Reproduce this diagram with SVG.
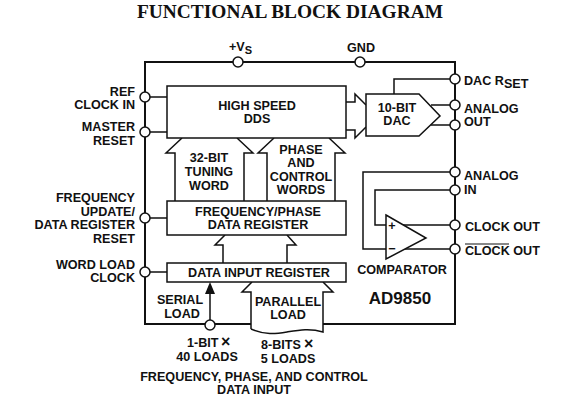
<svg xmlns="http://www.w3.org/2000/svg" width="572" height="403" viewBox="0 0 572 403">
<style>
.l{fill:none;stroke:#111;stroke-width:1.5}
.o{fill:none;stroke:#111;stroke-width:2}
.b{fill:#fff;stroke:#111;stroke-width:1.5}
.c{fill:#fff;stroke:#111;stroke-width:1.5}
text{font-family:"Liberation Sans",Arial,sans-serif;font-weight:bold;font-size:12.6px;fill:#111}
.m{text-anchor:middle}
.e{text-anchor:end}
.x{font-size:16px}
</style>
<rect width="572" height="403" fill="#fff"/>
<text x="290" y="18" class="m" style="font-family:'Liberation Serif',serif;font-size:19.4px">FUNCTIONAL BLOCK DIAGRAM</text>
<g id="connectors">
<path class="o" d="M251 324H145V62H455V324H323"/>
<path class="l" d="M145 97H167M145 132H167M145 218H167M145 272H167"/>
<path class="l" d="M455 79H394V94M431 105H455M431 125H455"/>
<path class="l" d="M455 172H363V249H455M455 190H375V225H455"/>
<path class="l" d="M210 320V290"/>
<path fill="#111" d="M210 282L215 294H205Z"/>
<path class="l" d="M346 102H355V94L366 105M346 130H355V138L366 127"/>
<path class="l" d="M175 201V153H166L182 138M237 138L253 153H244V201"/>
<path class="l" d="M267 201V153H258L274 138M329 138L345 153H335V201"/>
<path class="l" d="M223 263V245H215L225 235M287 235L296 245H287V263"/>
<path class="l" d="M251 324V292H242L252 282M323 282L333 292H323V324"/>
<path class="l" d="M251 329C265 335 275 334 287 332S310 328 323 332V324M251 329V324"/>
</g>
<g id="dds"><rect class="b" x="167" y="86" width="179" height="52"/><text x="257" y="110" class="m">HIGH SPEED</text><text x="257" y="123" class="m">DDS</text></g>
<g id="freq-reg"><rect class="b" x="167" y="201" width="179" height="34"/><text x="258" y="216" class="m">FREQUENCY/PHASE</text><text x="258" y="229" class="m">DATA REGISTER</text></g>
<g id="input-reg"><rect class="b" x="167" y="263" width="179" height="19"/><text x="259" y="277" class="m">DATA INPUT REGISTER</text></g>
<g id="dac"><path class="b" d="M366 94H419L440 116L419 136H366Z"/><text x="397" y="112" class="m">10-BIT</text><text x="397" y="125" class="m">DAC</text></g>
<g id="comparator"><path class="b" d="M386 215L426 238L386 259Z"/><text x="392" y="230" class="m">+</text><text x="392" y="253" class="m">−</text><text x="402" y="274" class="m">COMPARATOR</text></g>
<g id="pins">
<circle class="c" cx="238" cy="62" r="5"/><circle class="c" cx="360" cy="62" r="5"/>
<circle class="c" cx="145" cy="97" r="5"/><circle class="c" cx="145" cy="132" r="5"/><circle class="c" cx="145" cy="218" r="5"/><circle class="c" cx="145" cy="272" r="5"/>
<circle class="c" cx="210" cy="325" r="5"/>
<circle class="c" cx="455" cy="79" r="5"/><circle class="c" cx="455" cy="105" r="5"/><circle class="c" cx="455" cy="125" r="5"/><circle class="c" cx="455" cy="172" r="5"/><circle class="c" cx="455" cy="190" r="5"/><circle class="c" cx="455" cy="225" r="5"/><circle class="c" cx="455" cy="249" r="5"/>
</g>
<g id="labels">
<text x="229" y="51">+V<tspan dy="3" font-size="11">S</tspan></text>
<text x="361" y="52" class="m">GND</text>
<text x="135" y="96" class="e">REF</text><text x="135" y="109" class="e">CLOCK IN</text>
<text x="135" y="131" class="e">MASTER</text><text x="135" y="145" class="e">RESET</text>
<text x="135" y="202" class="e">FREQUENCY</text><text x="135" y="216" class="e">UPDATE/</text><text x="135" y="229" class="e">DATA REGISTER</text><text x="135" y="243" class="e">RESET</text>
<text x="135" y="269" class="e">WORD LOAD</text><text x="135" y="282" class="e">CLOCK</text>
<text x="209" y="162" class="m">32-BIT</text><text x="209" y="176" class="m">TUNING</text><text x="209" y="190" class="m">WORD</text>
<text x="301" y="154" class="m">PHASE</text><text x="301" y="167" class="m">AND</text><text x="301" y="181" class="m">CONTROL</text><text x="301" y="194" class="m">WORDS</text>
<text x="180" y="304" class="m">SERIAL</text><text x="182" y="318" class="m">LOAD</text>
<text x="288" y="306" class="m">PARALLEL</text><text x="288" y="319" class="m">LOAD</text>
<text x="464" y="85">DAC R<tspan dy="3">SET</tspan></text>
<text x="464" y="113">ANALOG</text><text x="464" y="126">OUT</text>
<text x="464" y="180">ANALOG</text><text x="464" y="194">IN</text>
<text x="465" y="231">CLOCK OUT</text><text x="465" y="255">CLOCK OUT</text>
<path class="l" style="stroke-width:1" d="M465 244H509"/>
<text x="400" y="304" style="font-size:17px" class="m">AD9850</text>
<text x="187" y="347">1-BIT<tspan x="221" class="x">×</tspan></text><text x="207" y="361" class="m">40 LOADS</text>
<text x="261" y="349">8-BITS<tspan x="304" class="x">×</tspan></text><text x="288" y="363" class="m">5 LOADS</text>
<text x="254" y="381" class="m">FREQUENCY, PHASE, AND CONTROL</text><text x="254" y="394" class="m">DATA INPUT</text>
</g>
</svg>
